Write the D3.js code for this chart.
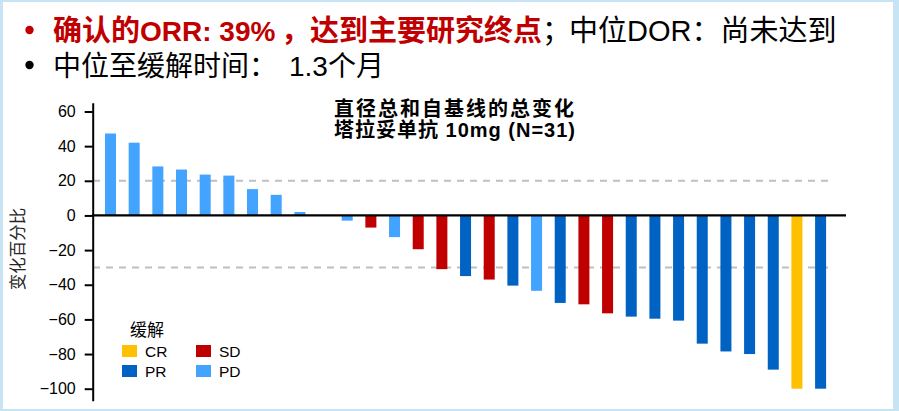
<!DOCTYPE html>
<html>
<head>
<meta charset="utf-8">
<script src="https://cdn.jsdelivr.net/npm/d3@7"></script>
<style>
  html, body { margin: 0; padding: 0; background: #fff; }
  svg { display: block; }
  text { font-family: "Liberation Sans", Arial, "Noto Sans CJK SC", sans-serif; }
</style>
</head>
<body>
<svg id="chart" width="899" height="411"></svg>
<script>
// ---- data ----
const patients = d3.range(1, 32);
const changes = [47.3, 42, 28.3, 26.5, 23.6, 23, 15.2, 11.9, 2, 0,
  -3, -7, -12.5, -19.5, -31, -35, -37, -40.5, -43.5, -50.5, -51.3,
  -56.5, -58.4, -59.6, -60.7, -74, -78.5, -80, -89, -100, -100];
const responses = ["PD","PD","PD","PD","PD","PD","PD","PD","PD","SD",
  "PD","SD","PD","SD","SD","PR","SD","PR","PD","PR","SD",
  "SD","PR","PR","PR","PR","PR","PR","PR","CR","PR"];
const yTicks = [60, 40, 20, 0, -20, -40, -60, -80, -100];
const refLines = [20, -30];
const legendKeys = ["CR", "PR", "SD", "PD"];
const legendColors = ["#FFC000", "#0063C4", "#C00000", "#42A4FF"];
const headline1Bold = ["确认的", "ORR: 39%", "，达到主要研究终点"];
const headline1Rest = ["；", "中位DOR：尚未达到"];
const headline2 = ["中位至缓解时间：", "1.3个月"];
const titleLines = ["直径总和自基线的总变化", "塔拉妥单抗 10mg (N=31)"];
const yLabel = "变化百分比";
const legendTitle = "缓解";

const data = patients.map((p, i) => ({ id: p, value: changes[i], resp: responses[i] }));

const svg = d3.select("#chart");
const W = 899, H = 411;

// frame
svg.append("rect").attr("x", 0).attr("y", 0).attr("width", W).attr("height", H).attr("fill", "#C6E4F4");
svg.append("rect").attr("x", 3).attr("y", 2).attr("width", 890).attr("height", 407).attr("fill", "#fff");

// scales
const color = d3.scaleOrdinal().domain(legendKeys).range(legendColors);
const x = d3.scaleBand().domain(patients).range([105, 826.1]).paddingInner(0.535).paddingOuter(0);
const y = d3.scaleLinear().domain([-100, 60]).range([388.7, 111.5]);

// reference dashed lines
svg.selectAll("line.ref").data(refLines).join("line")
  .attr("class", "ref")
  .attr("x1", 93).attr("x2", 830)
  .attr("y1", d => y(d)).attr("y2", d => y(d))
  .attr("stroke", "#BFBFBF").attr("stroke-width", 2)
  .attr("stroke-dasharray", "7,6");

// bars
svg.selectAll("rect.bar").data(data).join("rect")
  .attr("class", "bar")
  .attr("x", d => x(d.id))
  .attr("width", x.bandwidth())
  .attr("y", d => Math.min(y(0), y(d.value)))
  .attr("height", d => Math.abs(y(d.value) - y(0)))
  .attr("fill", d => color(d.resp));

// zero line
svg.append("line")
  .attr("x1", 92).attr("x2", 846)
  .attr("y1", y(0)).attr("y2", y(0))
  .attr("stroke", "#000").attr("stroke-width", 2.2);

// y axis
const yAxisScale = y.copy().domain([-107, 65]).range([y(-107), y(65)]);
const yAxis = d3.axisLeft(yAxisScale).tickValues(yTicks).tickSize(8).tickSizeOuter(0).tickPadding(9);
const gy = svg.append("g").attr("transform", "translate(92.7,0)").call(yAxis);
gy.select(".domain").attr("stroke", "#000").attr("stroke-width", 2);
gy.selectAll(".tick line").attr("stroke", "#000").attr("stroke-width", 2);
gy.selectAll(".tick text").attr("font-size", 16).attr("fill", "#000")
  .attr("font-family", "Liberation Sans, Arial, sans-serif");

// y label
svg.append("text")
  .attr("transform", "translate(24,249) rotate(-90)")
  .attr("text-anchor", "middle")
  .attr("font-size", 16.5).attr("fill", "#262626")
  .text(yLabel);

// chart title
svg.append("text")
  .attr("x", 455).attr("y", 116).attr("text-anchor", "middle")
  .attr("font-size", 20).attr("letter-spacing", 2).attr("font-weight", "bold").attr("fill", "#000")
  .text(titleLines[0]);
svg.append("text")
  .attr("x", 455).attr("y", 137).attr("text-anchor", "middle")
  .attr("font-size", 20).attr("letter-spacing", 1).attr("font-weight", "bold").attr("fill", "#000")
  .text(titleLines[1]);

// headline
svg.append("circle").attr("cx", 29.5).attr("cy", 30).attr("r", 4.2).attr("fill", "#C00000");
svg.append("circle").attr("cx", 29.5).attr("cy", 65).attr("r", 4.2).attr("fill", "#000");
const h1 = svg.append("text").attr("y", 40.5).attr("font-size", 29);
h1.append("tspan").attr("x", 53).attr("font-weight", "bold").attr("fill", "#C00000").text(headline1Bold[0]);
h1.append("tspan").attr("font-size", 28).attr("font-weight", "bold").attr("fill", "#C00000").text(headline1Bold[1]);
h1.append("tspan").attr("x", 281).attr("font-weight", "bold").attr("fill", "#C00000").text(headline1Bold[2]);
h1.append("tspan").attr("x", 542).attr("fill", "#000").text(headline1Rest[0]);
h1.append("tspan").attr("x", 569).attr("fill", "#000").text(headline1Rest[1]);
const h2 = svg.append("text").attr("y", 75.5).attr("font-size", 28).attr("fill", "#000");
h2.append("tspan").attr("x", 53).text(headline2[0]);
h2.append("tspan").attr("x", 289).text(headline2[1]);

// legend
svg.append("text").attr("x", 130).attr("y", 336).attr("font-size", 17).attr("fill", "#000").text(legendTitle);
const legPos = { CR: [122, 345], SD: [196, 345], PR: [122, 365], PD: [196, 365] };
const lg = svg.selectAll("g.leg").data(legendKeys).join("g")
  .attr("class", "leg")
  .attr("transform", d => `translate(${legPos[d][0]},${legPos[d][1]})`);
lg.append("rect").attr("width", 15).attr("height", 12).attr("fill", d => color(d));
lg.append("text").attr("x", 23).attr("y", 11.5).attr("font-size", 15.5).attr("fill", "#000").text(d => d);
</script>
</body>
</html>
